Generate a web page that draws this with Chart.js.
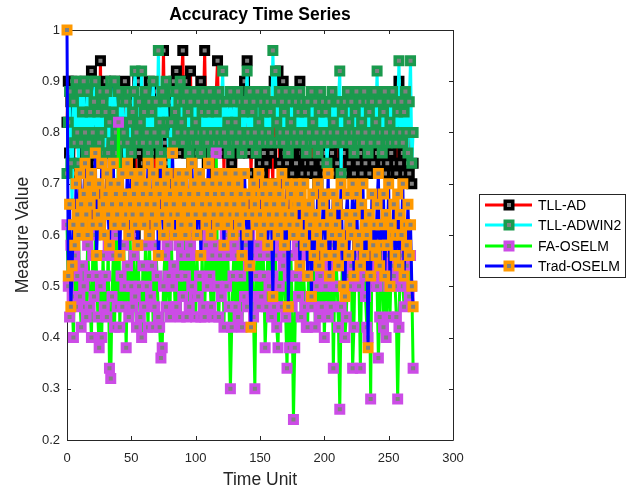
<!DOCTYPE html>
<html><head><meta charset="utf-8">
<script src="https://cdn.jsdelivr.net/npm/chart.js@4.4.0/dist/chart.umd.min.js"></script>
<style>html,body{margin:0;padding:0;background:#fff}canvas{display:block}</style>
</head><body>
<canvas id="c" width="635" height="493"></canvas>
<script>
const seriesNames = ['TLL-AD', 'TLL-ADWIN2', 'FA-OSELM', 'Trad-OSELM'];

const tllAD = [
0.82,0.9,0.76,0.86,0.9,0.72,0.84,0.88,0.78,0.82,
0.74,0.88,0.8,0.76,0.9,0.84,0.72,0.86,0.8,0.92,
0.78,0.84,0.74,0.88,0.82,0.76,0.94,0.74,0.88,0.8,
0.9,0.76,0.84,0.72,0.86,0.8,0.76,0.9,0.82,0.88,
0.84,0.74,0.86,0.78,0.8,0.9,0.76,0.82,0.88,0.74,
0.8,0.86,0.78,0.6,0.84,0.9,0.76,0.8,0.86,0.74,
0.84,0.78,0.88,0.74,0.9,0.82,0.76,0.86,0.8,0.72,
0.88,0.8,0.76,0.86,0.82,0.96,0.78,0.74,0.88,0.8,
0.86,0.76,0.84,0.9,0.78,0.92,0.82,0.88,0.76,0.9,
0.96,0.82,0.9,0.76,0.88,0.8,0.92,0.74,0.86,0.8,
0.88,0.76,0.82,0.86,0.9,0.78,0.84,0.96,0.8,0.74,
0.88,0.8,0.76,0.86,0.72,0.84,0.88,0.94,0.78,0.86,
0.76,0.84,0.72,0.86,0.8,0.76,0.84,0.88,0.74,0.82,
0.78,0.72,0.86,0.8,0.76,0.88,0.8,0.84,0.9,0.78,
0.94,0.76,0.84,0.72,0.8,0.86,0.86,0.76,0.72,0.82,
0.74,0.8,0.72,0.76,0.82,0.74,0.68,0.78,0.84,0.76,
0.7,0.9,0.86,0.78,0.92,0.74,0.84,0.88,0.9,0.76,
0.84,0.74,0.8,0.86,0.76,0.72,0.84,0.78,0.74,0.82,
0.86,0.9,0.76,0.72,0.82,0.76,0.74,0.8,0.72,0.82,
0.74,0.78,0.84,0.72,0.8,0.7,0.78,0.86,0.74,0.8,
0.72,0.76,0.82,0.74,0.8,0.86,0.76,0.72,0.82,0.78,
0.74,0.82,0.72,0.8,0.86,0.76,0.72,0.8,0.84,0.74,
0.78,0.88,0.76,0.72,0.82,0.78,0.74,0.86,0.76,0.72,
0.8,0.84,0.74,0.82,0.76,0.72,0.8,0.86,0.74,0.78,
0.82,0.76,0.72,0.86,0.78,0.74,0.82,0.76,0.72,0.74,
0.8,0.86,0.76,0.72,0.82,0.74,0.72,0.8,0.9,0.74,
0.84,0.76,0.72,0.8,0.86,0.74,0.72,0.8,0.7,0.74
];

const tllADWIN2 = [
0.72,0.82,0.88,0.74,0.66,0.86,0.78,0.9,0.8,0.74,
0.88,0.78,0.84,0.9,0.8,0.76,0.88,0.78,0.84,0.9,
0.8,0.86,0.9,0.76,0.84,0.78,0.88,0.8,0.86,0.76,
0.84,0.88,0.76,0.82,0.9,0.78,0.84,0.9,0.8,0.76,
0.88,0.82,0.78,0.86,0.8,0.74,0.86,0.78,0.88,0.82,
0.76,0.84,0.88,0.92,0.8,0.78,0.86,0.82,0.92,0.78,
0.84,0.88,0.8,0.76,0.86,0.78,0.84,0.9,0.8,0.86,
0.78,0.96,0.82,0.76,0.88,0.8,0.86,0.9,0.82,0.76,
0.7,0.82,0.88,0.78,0.84,0.88,0.8,0.86,0.9,0.82,
0.78,0.86,0.8,0.88,0.84,0.76,0.86,0.8,0.78,0.88,
0.82,0.78,0.86,0.8,0.76,0.84,0.88,0.8,0.86,0.78,
0.84,0.88,0.8,0.76,0.86,0.78,0.84,0.8,0.88,0.78,
0.86,0.92,0.8,0.78,0.86,0.82,0.76,0.88,0.8,0.78,
0.86,0.82,0.78,0.88,0.8,0.86,0.76,0.84,0.78,0.86,
0.92,0.8,0.88,0.78,0.84,0.86,0.8,0.76,0.88,0.82,
0.78,0.86,0.8,0.84,0.88,0.78,0.86,0.8,0.84,0.78,
0.96,0.86,0.92,0.82,0.78,0.88,0.8,0.86,0.78,0.84,
0.88,0.8,0.76,0.86,0.82,0.78,0.88,0.8,0.86,0.78,
0.84,0.88,0.8,0.86,0.78,0.84,0.76,0.86,0.8,0.78,
0.88,0.82,0.78,0.86,0.8,0.76,0.84,0.88,0.78,0.86,
0.8,0.84,0.74,0.78,0.86,0.8,0.88,0.82,0.78,0.86,
0.8,0.86,0.92,0.72,0.84,0.78,0.86,0.8,0.88,0.82,
0.78,0.86,0.8,0.76,0.84,0.88,0.8,0.78,0.86,0.82,
0.78,0.88,0.8,0.86,0.76,0.84,0.78,0.86,0.8,0.88,
0.82,0.92,0.78,0.86,0.8,0.76,0.84,0.88,0.8,0.78,
0.86,0.82,0.78,0.88,0.8,0.86,0.78,0.84,0.94,0.8,
0.86,0.78,0.84,0.88,0.8,0.76,0.86,0.94,0.74,0.8
];

const faOSELM = [
0.62,0.5,0.44,0.58,0.48,0.4,0.56,0.46,0.52,0.6,
0.48,0.42,0.54,0.5,0.46,0.44,0.58,0.52,0.46,0.4,
0.56,0.48,0.6,0.52,0.44,0.38,0.5,0.4,0.56,0.46,
0.52,0.44,0.58,0.34,0.32,0.48,0.56,0.42,0.6,0.46,
0.82,0.42,0.52,0.46,0.58,0.5,0.38,0.54,0.44,0.6,
0.5,0.46,0.56,0.48,0.42,0.58,0.5,0.44,0.4,0.54,
0.46,0.58,0.5,0.42,0.6,0.48,0.54,0.42,0.46,0.58,
0.52,0.44,0.42,0.36,0.38,0.5,0.56,0.46,0.58,0.52,
0.44,0.6,0.5,0.54,0.46,0.46,0.52,0.58,0.44,0.56,
0.48,0.6,0.52,0.44,0.56,0.46,0.58,0.5,0.6,0.48,
0.44,0.56,0.48,0.52,0.44,0.56,0.46,0.44,0.58,0.5,
0.6,0.52,0.46,0.56,0.44,0.58,0.76,0.5,0.44,0.56,
0.48,0.58,0.42,0.6,0.5,0.56,0.46,0.3,0.42,0.52,
0.58,0.46,0.56,0.44,0.6,0.52,0.42,0.56,0.48,0.58,
0.46,0.54,0.6,0.48,0.56,0.44,0.3,0.52,0.58,0.46,
0.56,0.48,0.6,0.52,0.38,0.46,0.56,0.5,0.58,0.44,
0.52,0.46,0.56,0.42,0.38,0.5,0.58,0.46,0.54,0.56,
0.44,0.34,0.52,0.38,0.56,0.46,0.24,0.38,0.52,0.58,
0.48,0.56,0.44,0.6,0.52,0.46,0.42,0.42,0.56,0.48,
0.46,0.54,0.58,0.42,0.5,0.56,0.44,0.52,0.46,0.58,
0.4,0.5,0.56,0.44,0.54,0.46,0.58,0.34,0.5,0.56,
0.5,0.42,0.26,0.46,0.54,0.58,0.4,0.44,0.52,0.56,
0.5,0.54,0.34,0.42,0.56,0.52,0.58,0.5,0.34,0.54,
0.56,0.52,0.48,0.42,0.4,0.54,0.28,0.58,0.5,0.52,
0.56,0.5,0.36,0.44,0.54,0.58,0.42,0.52,0.4,0.56,
0.5,0.44,0.54,0.58,0.52,0.5,0.44,0.28,0.42,0.56,
0.52,0.5,0.46,0.58,0.54,0.5,0.48,0.56,0.5,0.34
];

const tradOSELM = [
1.0,0.52,0.66,0.46,0.54,0.62,0.58,0.7,0.64,0.6,
0.72,0.66,0.62,0.68,0.74,0.64,0.6,0.7,0.66,0.72,
0.62,0.68,0.76,0.56,0.64,0.7,0.62,0.74,0.66,0.6,
0.68,0.72,0.64,0.58,0.7,0.66,0.74,0.62,0.68,0.64,
0.7,0.56,0.66,0.72,0.62,0.68,0.64,0.74,0.6,0.66,
0.72,0.64,0.68,0.62,0.7,0.58,0.66,0.72,0.64,0.68,
0.62,0.7,0.66,0.74,0.6,0.68,0.64,0.72,0.66,0.62,
0.7,0.56,0.68,0.74,0.64,0.6,0.7,0.66,0.72,0.62,
0.68,0.64,0.76,0.66,0.6,0.7,0.64,0.72,0.68,0.62,
0.7,0.66,0.6,0.72,0.64,0.68,0.62,0.74,0.66,0.7,
0.64,0.6,0.68,0.72,0.56,0.66,0.7,0.64,0.62,0.68,
0.74,0.66,0.6,0.7,0.64,0.68,0.72,0.62,0.66,0.7,
0.64,0.68,0.58,0.72,0.66,0.62,0.7,0.64,0.68,0.6,
0.66,0.72,0.64,0.7,0.62,0.68,0.56,0.66,0.72,0.64,
0.6,0.68,0.54,0.42,0.64,0.7,0.66,0.62,0.68,0.72,
0.64,0.6,0.68,0.62,0.7,0.66,0.58,0.64,0.68,0.62,
0.48,0.66,0.7,0.64,0.6,0.68,0.62,0.72,0.66,0.58,
0.64,0.7,0.46,0.62,0.68,0.64,0.6,0.66,0.7,0.62,
0.66,0.54,0.68,0.6,0.7,0.58,0.64,0.52,0.66,0.62,
0.48,0.68,0.56,0.64,0.6,0.7,0.54,0.62,0.58,0.66,
0.68,0.56,0.62,0.72,0.52,0.64,0.6,0.68,0.56,0.62,
0.66,0.54,0.6,0.7,0.58,0.5,0.48,0.64,0.68,0.56,
0.62,0.6,0.7,0.52,0.64,0.68,0.58,0.6,0.54,0.66,
0.7,0.56,0.62,0.6,0.38,0.64,0.52,0.68,0.58,0.62,
0.56,0.66,0.72,0.54,0.62,0.58,0.68,0.52,0.64,0.58,
0.7,0.5,0.62,0.6,0.66,0.56,0.6,0.68,0.54,0.64,
0.6,0.7,0.52,0.62,0.58,0.66,0.56,0.62,0.5,0.46
];

const xTicks = [0, 50, 100, 150, 200, 250, 300];
const yTicks = [0.2, 0.3, 0.4, 0.5, 0.6, 0.7, 0.8, 0.9, 1];

const seriesValues = [tllAD, tllADWIN2, faOSELM, tradOSELM];
const lineColors = ['#ff0000', '#00ffff', '#00ff00', '#0000ff'];
const markerColors = ['#000000', '#1a9a4d', '#cc4ce6', '#ff9900'];
const markerFill = '#808080';
const axisColor = '#262626';
const FONT = "'Liberation Sans', Arial, Helvetica, sans-serif";
Chart.defaults.font.family = FONT;

const datasets = seriesValues.map((vals, k) => ({
  label: seriesNames[k],
  data: vals.map((v, i) => ({x: i, y: v})),
  borderColor: lineColors[k],
  borderWidth: 3,
  pointStyle: 'rect',
  pointRadius: 5.3,
  pointBorderWidth: 3.5,
  pointBorderColor: markerColors[k],
  pointBackgroundColor: markerFill,
  pointHoverRadius: 5.3,
  tension: 0,
  fill: false,
  clip: false,
  order: 3 - k
}));

const frame = {
  id: 'frame',
  beforeDatasetsDraw(chart) {
    const {ctx, chartArea: a, scales: {x, y}} = chart;
    ctx.save();
    ctx.strokeStyle = axisColor;
    ctx.lineWidth = 1;
    ctx.beginPath();
    ctx.rect(Math.round(a.left) + 0.5, Math.round(a.top) + 0.5, Math.round(a.right - a.left), Math.round(a.bottom - a.top));
    const L = 4;
    xTicks.forEach(v => {
      const px = Math.round(x.getPixelForValue(v)) + 0.5;
      ctx.moveTo(px, a.bottom); ctx.lineTo(px, a.bottom - L);
      ctx.moveTo(px, a.top); ctx.lineTo(px, a.top + L);
    });
    yTicks.forEach(v => {
      const py = Math.round(y.getPixelForValue(v)) + 0.5;
      ctx.moveTo(a.left, py); ctx.lineTo(a.left + L, py);
      ctx.moveTo(a.right, py); ctx.lineTo(a.right - L, py);
    });
    ctx.stroke();
    ctx.restore();
  },
  afterDraw(chart) {
    const {ctx} = chart;
    const bx = 479, by = 194, bw = 146, bh = 83;
    ctx.save();
    ctx.fillStyle = '#fff';
    ctx.fillRect(bx, by, bw, bh);
    ctx.strokeStyle = axisColor;
    ctx.lineWidth = 1;
    ctx.strokeRect(bx + 0.5, by + 0.5, bw, bh);
    const rows = [205, 225, 246, 266];
    chart.data.datasets.forEach((ds, k) => {
      const yy = rows[k];
      ctx.strokeStyle = ds.borderColor;
      ctx.lineWidth = 3;
      ctx.beginPath(); ctx.moveTo(485, yy); ctx.lineTo(532, yy); ctx.stroke();
      const s = 5.3 * Math.SQRT1_2;
      ctx.fillStyle = markerFill;
      ctx.strokeStyle = ds.pointBorderColor;
      ctx.lineWidth = 3.5;
      ctx.beginPath(); ctx.rect(509 - s, yy - s, 2 * s, 2 * s); ctx.fill(); ctx.stroke();
      ctx.fillStyle = '#000';
      ctx.font = '14px ' + FONT;
      ctx.textBaseline = 'middle';
      ctx.textAlign = 'left';
      ctx.fillText(ds.label, 538, yy + 1);
    });
    ctx.restore();
  }
};

new Chart(document.getElementById('c'), {
  type: 'line',
  data: {datasets},
  plugins: [frame],
  options: {
    responsive: false,
    devicePixelRatio: 1,
    animation: false,
    events: [],
    layout: {padding: {left: 0, top: 0, right: 182, bottom: 0}},
    plugins: {
      legend: {display: false},
      tooltip: {enabled: false},
      title: {
        display: true, text: 'Accuracy Time Series', fullSize: false,
        color: '#000', font: {size: 17.5, weight: 'bold'},
        padding: {top: 4.5, bottom: 4.5}
      }
    },
    scales: {
      x: {
        type: 'linear', min: 0, max: 300,
        afterBuildTicks: s => { s.ticks = xTicks.map(v => ({value: v})); },
        afterFit: s => { s.height = 53; },
        grid: {display: false, drawTicks: false},
        border: {display: false},
        ticks: {color: axisColor, font: {size: 13}, padding: 11, maxRotation: 0, callback: v => String(v)},
        title: {display: true, text: 'Time Unit', color: axisColor, font: {size: 17.5}, padding: {top: 0, bottom: 2.5}}
      },
      y: {
        type: 'linear', min: 0.2, max: 1,
        afterBuildTicks: s => { s.ticks = yTicks.map(v => ({value: v})); },
        afterFit: s => { s.width = 67; },
        grid: {display: false, drawTicks: false},
        border: {display: false},
        ticks: {color: axisColor, font: {size: 13}, padding: 7, callback: v => String(v)},
        title: {display: true, text: 'Measure Value', color: axisColor, font: {size: 17.5}, padding: {top: 12.5, bottom: 0}}
      }
    }
  }
});
</script>
</body></html>
